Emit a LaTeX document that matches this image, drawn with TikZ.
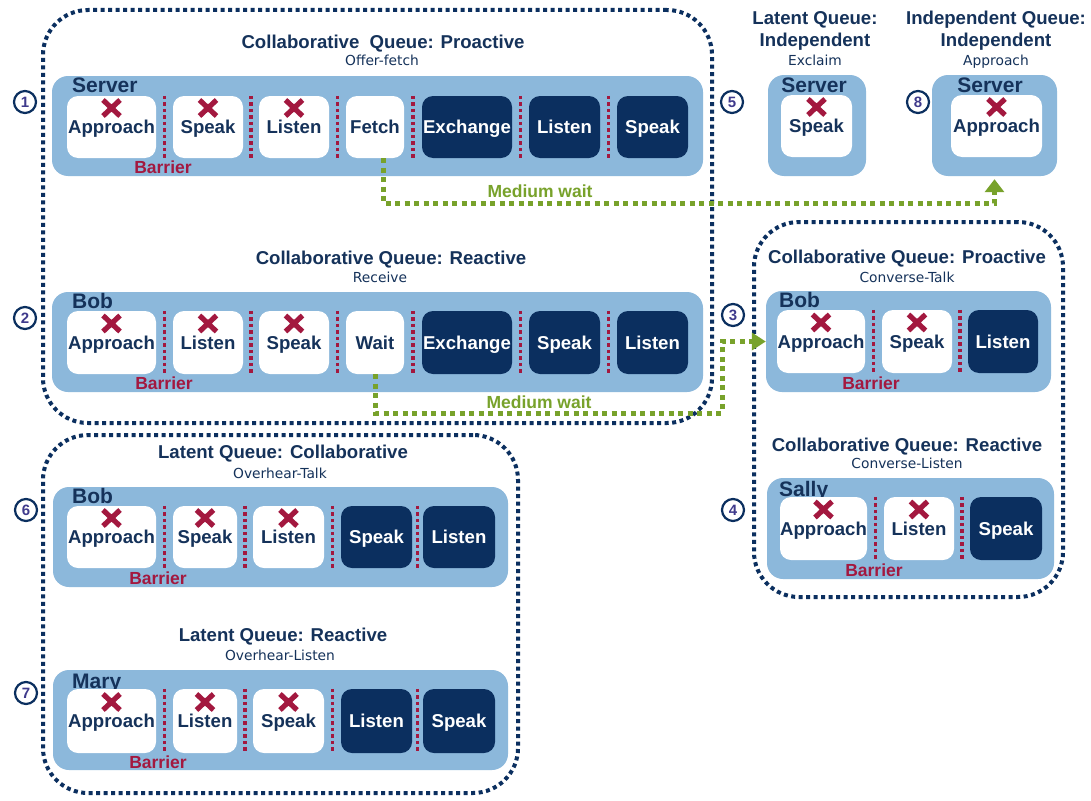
\documentclass[tikz,border=0pt]{standalone}
\usepackage{fontspec}
\setmainfont{Liberation Sans}
\newfontfamily\subf{DejaVu Sans}
\usetikzlibrary{arrows.meta,calc}
\definecolor{navy}{HTML}{0B2F5F}
\definecolor{tnavy}{HTML}{15325A}
\definecolor{lblue}{HTML}{8CB8DB}
\definecolor{crim}{HTML}{A3183F}
\definecolor{grn}{HTML}{78A22B}
\definecolor{purp}{HTML}{3F3A8C}
\newcommand\fb[1]{\fontsize{#1}{#1}\selectfont\bfseries}
\newcommand\bx[7]{\node[#1,minimum width={#4-#3},minimum height={#6-#5}] (#2) at ({(#3+#4)/2},{(#5+#6)/2}) {#7};}
\newcommand\xmark[1]{\draw[xmk,shift={(#1.center)}] (-8.5,-27) -- (8.5,-11) (-8.5,-11) -- (8.5,-27);}
\newcommand\barr[2]{\draw[barrier] ($(#1.north east)!0.5!(#2.north west)$) -- ($(#1.south east)!0.5!(#2.south west)$);}
\begin{document}
\begin{tikzpicture}[x=1pt,y=-1pt,
  grp/.style={draw=navy,line width=4pt,dash pattern=on 4pt off 3.5pt,rounded corners=45pt,inner sep=0pt},
  lane/.style={fill=lblue,rounded corners=16pt,inner sep=0pt},
  wcell/.style={fill=white,rounded corners=11pt,inner sep=0pt,text=tnavy,font=\fb{18.6},text height=13.3pt,text depth=0pt},
  dcell/.style={fill=navy,rounded corners=11pt,inner sep=0pt,text=white,font=\fb{18.6},text height=13.3pt,text depth=0pt},
  xmk/.style={draw=crim,line width=5.2pt},
  barrier/.style={draw=crim,line width=3.5pt,dash pattern=on 3.5pt off 3pt},
  btext/.style={text=crim,font=\fb{17.5},text height=12.5pt,text depth=0pt,inner sep=0pt},
  ttl/.style={text=tnavy,font=\fb{18.6},text height=13.3pt,text depth=0pt,inner sep=0pt},
  sub/.style={text=tnavy,font=\subf\fontsize{13.8}{14}\selectfont,text height=10pt,text depth=0pt,inner sep=0pt},
  lname/.style={text=tnavy,font=\fb{21},text height=15pt,text depth=0pt,inner sep=0pt},
  num/.style={circle,draw=navy,line width=2.2pt,fill=white,minimum size=22pt,inner sep=0pt,text=purp,font=\fb{15},text height=10.7pt,text depth=0pt},
  waitln/.style={draw=grn,line width=5pt,dash pattern=on 5pt off 4.5pt},
  wlab/.style={text=grn,font=\fb{17.5},text height=12.5pt,text depth=0pt,inner sep=0pt}]
\useasboundingbox (0,0) rectangle (1091,800);
\fill[white] (0,0) rectangle (1091,800);

% groups
\bx{grp}{gA}{43}{712}{10}{423}{}
\bx{grp}{gB}{754}{1063}{222}{597}{}
\bx{grp}{gC}{43}{518}{435}{793}{}

% titles
\node[ttl] (t1) at (383,41.5) {Collaborative~ Queue: Proactive};
\node[sub] (s1) at (382,61) {Offer-fetch};
\node[ttl] (t2) at (391,258) {Collaborative Queue: Reactive};
\node[sub] (s2) at (380,277) {Receive};
\node[ttl] (t3) at (907,257) {Collaborative Queue: Proactive};
\node[sub] (s3) at (907,277) {Converse-Talk};
\node[ttl] (t4) at (907,445) {Collaborative Queue: Reactive};
\node[sub] (s4) at (907,463) {Converse-Listen};
\node[ttl] (t6) at (283,452) {Latent Queue: Collaborative};
\node[sub] (s6) at (280,473) {Overhear-Talk};
\node[ttl] (t7) at (283,635) {Latent Queue: Reactive};
\node[sub] (s7) at (280,655) {Overhear-Listen};
\node[ttl] (t5a) at (815,18) {Latent Queue:};
\node[ttl] (t5b) at (815,40) {Independent};
\node[sub] (s5) at (815,61) {Exclaim};
\node[ttl] (t8a) at (996,18) {Independent Queue:};
\node[ttl] (t8b) at (996,40) {Independent};
\node[sub] (s8) at (996,61) {Approach};

% lanes
\bx{lane}{l1}{52}{703}{76}{176}{}
\bx{lane}{l2}{52}{703}{292}{392}{}
\bx{lane}{l3}{766}{1051}{291}{392}{}
\bx{lane}{l4}{767}{1054}{478}{579}{}
\bx{lane}{l5}{768}{866}{75}{176}{}
\bx{lane}{l8}{932}{1057}{75}{176}{}
\bx{lane}{l6}{53}{508}{487}{587}{}
\bx{lane}{l7}{53}{508}{670}{770}{}

% lane names
\node[lname,anchor=west] (n1) at (72,85) {Server};
\node[lname,anchor=west] (n2) at (72,301) {Bob};
\node[lname,anchor=west] (n3) at (779,300) {Bob};
\node[lname,anchor=west] (n4) at (779,489) {Sally};
\node[lname] (n5) at (814,85) {Server};
\node[lname] (n8) at (990,85) {Server};
\node[lname,anchor=west] (n6) at (72,496) {Bob};
\node[lname,anchor=west] (n7) at (72,681) {Mary};

% row 1
\bx{wcell}{c1a}{67}{156}{96}{158}{Approach}
\bx{wcell}{c1b}{173}{243}{96}{158}{Speak}
\bx{wcell}{c1c}{259}{329}{96}{158}{Listen}
\bx{wcell}{c1d}{346}{404}{96}{158}{Fetch}
\bx{dcell}{c1e}{422}{512}{96}{158}{Exchange}
\bx{dcell}{c1f}{529}{600}{96}{158}{Listen}
\bx{dcell}{c1g}{617}{688}{96}{158}{Speak}
\xmark{c1a}\xmark{c1b}\xmark{c1c}
\barr{c1a}{c1b}\barr{c1b}{c1c}\barr{c1c}{c1d}\barr{c1d}{c1e}\barr{c1e}{c1f}\barr{c1f}{c1g}
\node[btext] (b1) at (163,167.5) {Barrier};

% row 2
\bx{wcell}{c2a}{67}{156}{311}{374}{Approach}
\bx{wcell}{c2b}{173}{243}{311}{374}{Listen}
\bx{wcell}{c2c}{259}{329}{311}{374}{Speak}
\bx{wcell}{c2d}{346}{404}{311}{374}{Wait}
\bx{dcell}{c2e}{422}{512}{311}{374}{Exchange}
\bx{dcell}{c2f}{529}{600}{311}{374}{Speak}
\bx{dcell}{c2g}{617}{688}{311}{374}{Listen}
\xmark{c2a}\xmark{c2b}\xmark{c2c}
\barr{c2a}{c2b}\barr{c2b}{c2c}\barr{c2c}{c2d}\barr{c2d}{c2e}\barr{c2e}{c2f}\barr{c2f}{c2g}
\node[btext] (b2) at (164,383) {Barrier};

% row 3
\bx{wcell}{c3a}{777}{865}{310}{373}{Approach}
\bx{wcell}{c3b}{882}{952}{310}{373}{Speak}
\bx{dcell}{c3c}{968}{1038}{310}{373}{Listen}
\xmark{c3a}\xmark{c3b}
\barr{c3a}{c3b}\barr{c3b}{c3c}
\node[btext] (b3) at (871,383) {Barrier};

% row 4
\bx{wcell}{c4a}{780}{867}{497}{560}{Approach}
\bx{wcell}{c4b}{884}{954}{497}{560}{Listen}
\bx{dcell}{c4c}{970}{1042}{497}{560}{Speak}
\xmark{c4a}\xmark{c4b}
\barr{c4a}{c4b}\barr{c4b}{c4c}
\node[btext] (b4) at (874,570) {Barrier};

% box 5 and 8
\bx{wcell}{c5a}{781}{852}{95}{157}{Speak}
\xmark{c5a}
\bx{wcell}{c8a}{951}{1042}{95}{157}{Approach}
\xmark{c8a}

% row 6
\bx{wcell}{c6a}{67}{156}{506}{568}{Approach}
\bx{wcell}{c6b}{173}{237}{506}{568}{Speak}
\bx{wcell}{c6c}{253}{324}{506}{568}{Listen}
\bx{dcell}{c6d}{341}{412}{506}{568}{Speak}
\bx{dcell}{c6e}{423}{495}{506}{568}{Listen}
\xmark{c6a}\xmark{c6b}\xmark{c6c}
\barr{c6a}{c6b}\barr{c6b}{c6c}\barr{c6c}{c6d}\barr{c6d}{c6e}
\node[btext] (b6) at (158,578) {Barrier};

% row 7
\bx{wcell}{c7a}{67}{156}{689}{753}{Approach}
\bx{wcell}{c7b}{173}{237}{689}{753}{Listen}
\bx{wcell}{c7c}{253}{324}{689}{753}{Speak}
\bx{dcell}{c7d}{341}{412}{689}{753}{Listen}
\bx{dcell}{c7e}{423}{495}{689}{753}{Speak}
\xmark{c7a}\xmark{c7b}\xmark{c7c}
\barr{c7a}{c7b}\barr{c7b}{c7c}\barr{c7c}{c7d}\barr{c7d}{c7e}
\node[btext] (b7) at (158,762) {Barrier};

% numbers
\node[num] (k1) at (25,102) {1};
\node[num] (k2) at (25,318) {2};
\node[num] (k3) at (733,315) {3};
\node[num] (k4) at (733,510) {4};
\node[num] (k5) at (732,102) {5};
\node[num] (k6) at (26,510) {6};
\node[num] (k7) at (26,693) {7};
\node[num] (k8) at (918,102) {8};

% medium wait arrows
\draw[waitln,-{Triangle[width=19pt,length=13pt]},shorten >=3pt] ([xshift=8pt]c1d.south) -- ++(0,45) -| (l8.south);
\node[wlab] (w1) at (540,191) {Medium wait};
\coordinate (g2) at (722,413);
\draw[waitln,-{Triangle[width=17pt,length=14pt]}] (c2d.south) |- (g2) |- (l3.west);
\node[wlab] (w2) at (539,402) {Medium wait};
\end{tikzpicture}
\end{document}
